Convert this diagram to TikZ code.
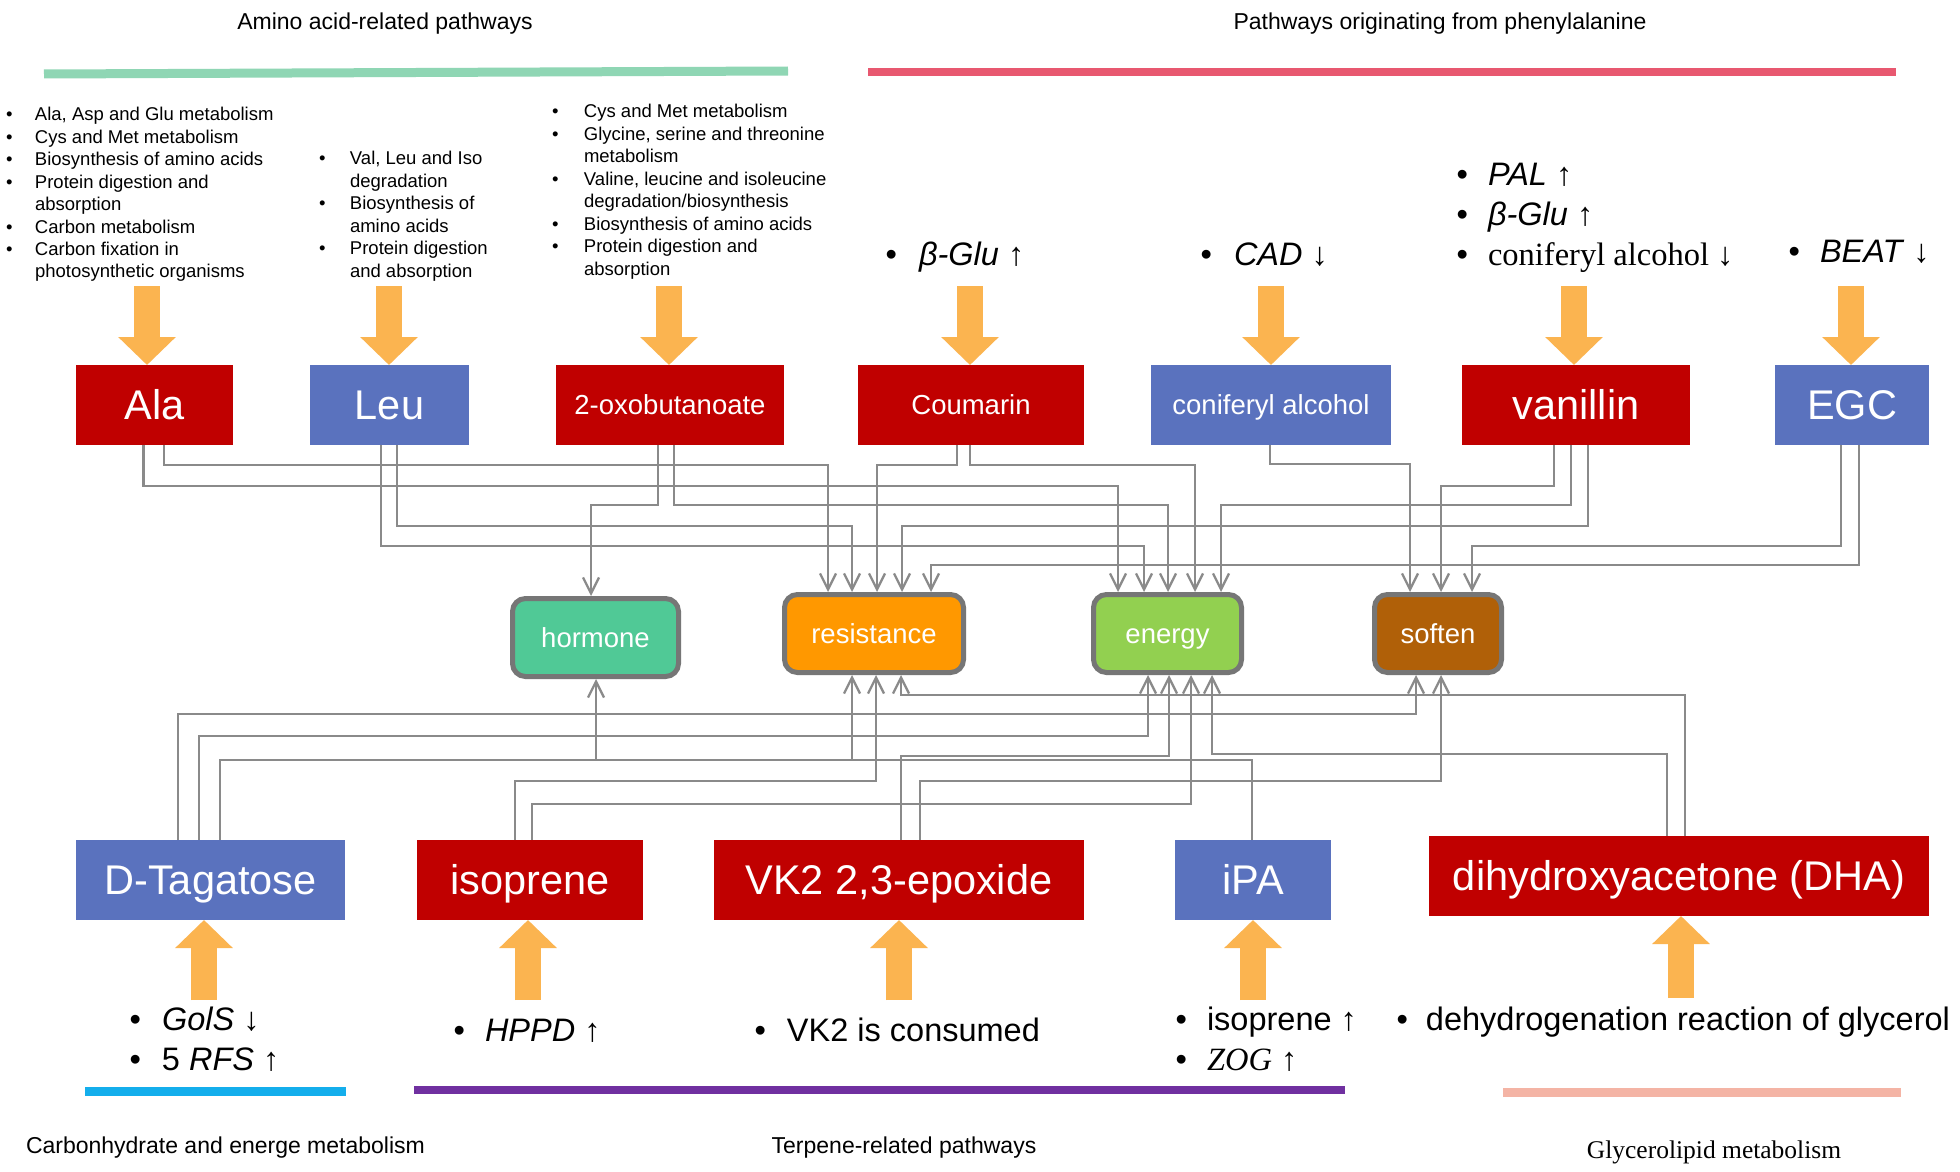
\documentclass[tikz,border=0pt]{standalone}
\usepackage{fontspec}
\setmainfont{Liberation Sans}
\newfontfamily\tnr{Liberation Serif}
\usetikzlibrary{arrows.meta}
\definecolor{boxred}{RGB}{192,0,0}
\definecolor{boxblue}{RGB}{90,114,190}
\definecolor{hormc}{RGB}{80,201,150}
\definecolor{resc}{RGB}{255,152,0}
\definecolor{enec}{RGB}{146,208,80}
\definecolor{sofc}{RGB}{176,96,8}
\definecolor{midgray}{RGB}{118,118,118}
\definecolor{conngray}{RGB}{138,138,138}
\definecolor{arrorange}{RGB}{251,180,80}
\definecolor{barGreen}{RGB}{143,214,180}
\definecolor{barRed}{RGB}{232,88,112}
\definecolor{barBlue}{RGB}{20,174,236}
\definecolor{barPurple}{RGB}{112,48,160}
\definecolor{barSalmon}{RGB}{244,180,165}
\newcommand{\bigf}{\fontsize{41.5}{48}\selectfont}
\newcommand{\smlf}{\fontsize{27.5}{33}\selectfont}
\newcommand{\listf}{\fontsize{18.5}{22.5}\selectfont}
\newcommand{\genef}{\fontsize{32.5}{40}\selectfont}
\newcommand{\titlef}{\fontsize{23}{28}\selectfont}
\tikzset{
  box/.style={draw=none, inner sep=0pt, outer sep=0pt, text=white, minimum height=80pt, text depth=0pt},
  bigtext/.style={font=\bigf, text height=29.7pt},
  smltext/.style={font=\smlf, text height=19.7pt},
  redbox/.style={box, fill=boxred},
  bluebox/.style={box, fill=boxblue},
  midbox/.style={draw=midgray, line width=5pt, rounded corners=13pt, text=white, minimum height=78pt, inner sep=0pt, text depth=0pt, smltext},
  conn/.style={draw=conngray, line width=2.3pt, -{Straight Barb[length=16pt,width=16pt]}},
  bigarrow/.style={draw=arrorange, line width=26pt, -{Triangle[length=28pt,width=56pt]}},
  txt/.style={inner sep=0pt, outer sep=0pt, anchor=base west},
  bar/.style={line width=9pt},
}
\begin{document}
\begin{tikzpicture}[x=1pt,y=-1pt]
\fill[white] (0,0) rectangle (1960,1172);
\useasboundingbox (0,0) rectangle (1960,1172);

% category titles and bars
\node[txt, anchor=base, font=\titlef] (tAmino) at (385,29.5) {Amino acid-related pathways};
\node[txt, anchor=base, font=\titlef] (tPhe) at (1440,29.5) {Pathways originating from phenylalanine};
\draw[bar, barGreen] (44,74) -- (788,71);
\draw[bar, line width=8pt, barRed] (868,72) -- (1896,72);
\draw[bar, barBlue] (85,1091) -- (346,1091);
\draw[bar, line width=8pt, barPurple] (414,1090) -- (1345,1090);
\draw[bar, barSalmon] (1503,1092) -- (1901,1092);
\node[txt, font=\titlef] (tCarb) at (26,1153) {Carbonhydrate and energe metabolism};
\node[txt, anchor=base, font=\titlef] (tTerp) at (904,1153) {Terpene-related pathways};
\node[txt, anchor=base, font={\tnr\fontsize{25.5}{30}\selectfont}] (tGly) at (1714,1158) {Glycerolipid metabolism};

% top lists
\node[txt, font=\listf] (L1) at (6,120.5) {\begin{tabular}[t]{@{}p{29pt}@{}l@{}}
• & Ala, Asp and Glu metabolism\\
• & Cys and Met metabolism\\
• & Biosynthesis of amino acids\\
• & Protein digestion and\\
  & absorption\\
• & Carbon metabolism\\
• & Carbon fixation in\\
  & photosynthetic organisms
\end{tabular}};
\node[txt, font=\listf] (L2) at (319,164.5) {\begin{tabular}[t]{@{}p{31pt}@{}l@{}}
• & Val, Leu and Iso\\
  & degradation\\
• & Biosynthesis of\\
  & amino acids\\
• & Protein digestion\\
  & and absorption
\end{tabular}};
\node[txt, font=\listf] (L3) at (552,117.5) {\begin{tabular}[t]{@{}p{32pt}@{}l@{}}
• & Cys and Met metabolism\\
• & Glycine, serine and threonine\\
  & metabolism\\
• & Valine, leucine and isoleucine\\
  & degradation/biosynthesis\\
• & Biosynthesis of amino acids\\
• & Protein digestion and\\
  & absorption
\end{tabular}};

% gene lists top right
\node[txt, font=\genef] (gCou) at (885.6,265) {\begin{tabular}[t]{@{}p{33.4pt}@{}l@{}}• & \textit{β-Glu} ↑\end{tabular}};
\node[txt, font=\genef] (gCon) at (1200.6,265) {\begin{tabular}[t]{@{}p{33.4pt}@{}l@{}}• & \textit{CAD} ↓\end{tabular}};
\node[txt, font=\genef] (gVan) at (1456.6,185) {\begin{tabular}[t]{@{}p{31.4pt}@{}l@{}}
• & \textit{PAL} ↑\\
• & \textit{β-Glu} ↑\\
• & {\tnr coniferyl alcohol ↓}
\end{tabular}};
\node[txt, font=\genef] (gEGC) at (1788.6,262) {\begin{tabular}[t]{@{}p{31.4pt}@{}l@{}}• & \textit{BEAT} ↓\end{tabular}};

% bottom gene lists
\node[txt, font=\genef] (gTag) at (129.5,1030) {\begin{tabular}[t]{@{}p{32.5pt}@{}l@{}}
• & \textit{GolS} ↓\\
• & 5 \textit{RFS} ↑
\end{tabular}};
\node[txt, font=\genef] (gIso) at (453.5,1041) {\begin{tabular}[t]{@{}p{31.5pt}@{}l@{}}• & \textit{HPPD} ↑\end{tabular}};
\node[txt, font=\genef] (gVK) at (754.5,1041) {\begin{tabular}[t]{@{}p{32.5pt}@{}l@{}}• & VK2 is consumed\end{tabular}};
\node[txt, font=\genef] (giPA) at (1175.5,1030) {\begin{tabular}[t]{@{}p{31.5pt}@{}l@{}}
• & isoprene ↑\\
• & {\tnr\itshape ZOG} ↑
\end{tabular}};
\node[txt, font=\genef] (gDHA) at (1396.5,1030) {\begin{tabular}[t]{@{}p{29.5pt}@{}l@{}}• & dehydrogenation reaction of glycerol\end{tabular}};

% top boxes
\node[redbox, minimum width=157pt, bigtext] (Ala) at (154.5,405) {Ala};
\node[bluebox, minimum width=159pt, bigtext] (Leu) at (389.5,405) {Leu};
\node[redbox, minimum width=228pt, smltext] (oxo) at (670,405) {2-oxobutanoate};
\node[redbox, minimum width=226pt, smltext] (Cou) at (971,405) {Coumarin};
\node[bluebox, minimum width=240pt, smltext] (con) at (1271,405) {coniferyl alcohol};
\node[redbox, minimum width=228pt, bigtext] (van) at (1576,405) {vanillin};
\node[bluebox, minimum width=154pt, bigtext] (EGC) at (1852,405) {EGC};

% middle boxes
\node[midbox, fill=hormc, minimum width=166pt] (hormone) at (595.5,637.5) {hormone};
\node[midbox, fill=resc, minimum width=179pt] (resistance) at (874,633.5) {resistance};
\node[midbox, fill=enec, minimum width=148pt] (energy) at (1167.5,633.5) {energy};
\node[midbox, fill=sofc, minimum width=127pt] (soften) at (1438,633.5) {soften};

% bottom boxes
\node[bluebox, minimum width=269pt, bigtext] (Tag) at (210.5,880) {D-Tagatose};
\node[redbox, minimum width=226pt, bigtext] (iso) at (530,880) {isoprene};
\node[redbox, minimum width=370pt, bigtext] (VK) at (899,880) {VK2 2,3-epoxide};
\node[bluebox, minimum width=156pt, bigtext] (iPA) at (1253,880) {iPA};
\node[redbox, minimum width=500pt, bigtext] (DHA) at (1679,876) {dihydroxyacetone (DHA)};

% big orange arrows (top)
\coordinate (aAla) at (147,286);
\coordinate (aLeu) at (389,286);
\coordinate (aOxo) at (669,286);
\coordinate (aCou) at (970,286);
\coordinate (aCon) at (1271,286);
\coordinate (aVan) at (1574,286);
\coordinate (aEGC) at (1851,286);
\draw[bigarrow] (aAla) -- (aAla |- Ala.north);
\draw[bigarrow] (aLeu) -- (aLeu |- Leu.north);
\draw[bigarrow] (aOxo) -- (aOxo |- oxo.north);
\draw[bigarrow] (aCou) -- (aCou |- Cou.north);
\draw[bigarrow] (aCon) -- (aCon |- con.north);
\draw[bigarrow] (aVan) -- (aVan |- van.north);
\draw[bigarrow] (aEGC) -- (aEGC |- EGC.north);
% big orange arrows (bottom)
\coordinate (bTag) at (204,1000);
\coordinate (bIso) at (528,1000);
\coordinate (bVK) at (899,1000);
\coordinate (biPA) at (1253,1000);
\coordinate (bDHA) at (1681,998);
\draw[bigarrow] (bTag) -- (bTag |- Tag.south);
\draw[bigarrow] (bIso) -- (bIso |- iso.south);
\draw[bigarrow] (bVK) -- (bVK |- VK.south);
\draw[bigarrow] (biPA) -- (biPA |- iPA.south);
\draw[bigarrow] (bDHA) -- (bDHA |- DHA.south);

% connectors from top boxes
\draw[conn] (Ala.south -| 164,0) |- (828,465) -- (resistance.north -| 828,0);
\draw[conn] (Ala.south -| 143.5,0) |- (1118,486) -- (energy.north -| 1118,0);
\draw[conn] (Leu.south -| 397,0) |- (852,526) -- (resistance.north -| 852,0);
\draw[conn] (Leu.south -| 381,0) |- (1144,546) -- (energy.north -| 1144,0);
\draw[conn] (oxo.south -| 658,0) |- (591,505) -- (hormone.north -| 591,0);
\draw[conn] (oxo.south -| 674,0) |- (1168,505) -- (energy.north -| 1168,0);
\draw[conn] (Cou.south -| 957,0) |- (877,465) -- (resistance.north -| 877,0);
\draw[conn] (Cou.south -| 970,0) |- (1195,465) -- (energy.north -| 1195,0);
\draw[conn] (con.south -| 1270,0) |- (1410,464) -- (soften.north -| 1410,0);
\draw[conn] (van.south -| 1554,0) |- (1441,486) -- (soften.north -| 1441,0);
\draw[conn] (van.south -| 1571,0) |- (1221,505) -- (energy.north -| 1221,0);
\draw[conn] (van.south -| 1588,0) |- (902,526) -- (resistance.north -| 902,0);
\draw[conn] (EGC.south -| 1841,0) |- (1472,546) -- (soften.north -| 1472,0);
\draw[conn] (EGC.south -| 1859,0) |- (931,565) -- (resistance.north -| 931,0);

% connectors from bottom boxes
\draw[conn] (Tag.north -| 178,0) |- (1416,714) -- (soften.south -| 1416,0);
\draw[conn] (Tag.north -| 199,0) |- (1148,736) -- (energy.south -| 1148,0);
\draw[conn] (Tag.north -| 220,0) |- (852,760) -- (resistance.south -| 852,0);
\draw[conn] (iPA.north -| 1252,0) |- (596,760) -- (hormone.south -| 596,0);
\draw[conn] (iso.north -| 515,0) |- (876,781) -- (resistance.south -| 876,0);
\draw[conn] (iso.north -| 532,0) |- (1191,804) -- (energy.south -| 1191,0);
\draw[conn] (VK.north -| 901,0) |- (1169,756) -- (energy.south -| 1169,0);
\draw[conn] (VK.north -| 920,0) |- (1441,781) -- (soften.south -| 1441,0);
\draw[conn] (DHA.north -| 1667,0) |- (1212,754) -- (energy.south -| 1212,0);
\draw[conn] (DHA.north -| 1685,0) |- (901,695) -- (resistance.south -| 901,0);
\end{tikzpicture}
\end{document}
